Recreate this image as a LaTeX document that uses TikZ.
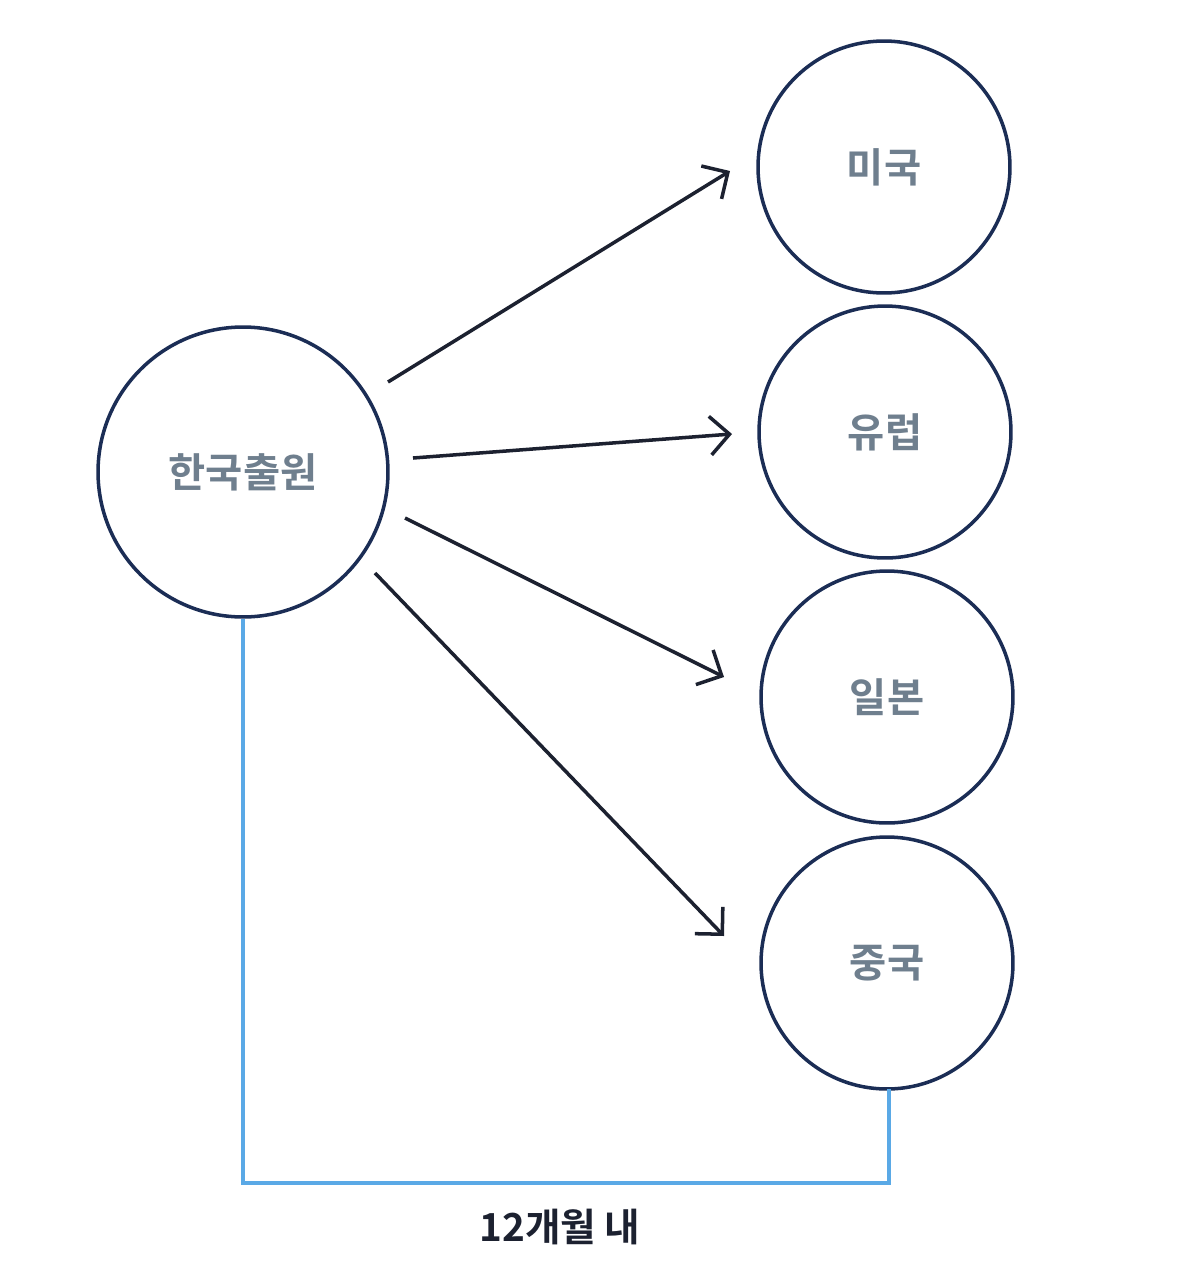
\documentclass[tikz,border=0pt]{standalone}
\usepackage{fontspec}
\newfontfamily\kr{Noto Sans CJK KR Bold}
\usetikzlibrary{arrows.meta}
\definecolor{navy}{HTML}{1B2D55}
\definecolor{txtg}{HTML}{6F7F8E}
\definecolor{arr}{HTML}{1C2130}
\definecolor{blu}{HTML}{5AA9E6}
\begin{document}
\begin{tikzpicture}[x=0.02cm,y=-0.02cm,
  cty/.style={circle,draw=navy,line width=2pt,inner sep=0pt,text=txtg,font=\kr\fontsize{23}{27}\selectfont},
  con/.style={draw=arr,line width=2pt,-{Straight Barb[length=11pt,width=22pt,line width=2pt]}}]
\useasboundingbox (0,0) rectangle (1200,1272);
\node[cty,minimum size=5.8cm] (kr) at (243,472) {한국출원};
\node[cty,minimum size=5.04cm] (us) at (884,167) {미국};
\node[cty,minimum size=5.04cm] (eu) at (885,432) {유럽};
\node[cty,minimum size=5.04cm] (jp) at (887,697) {일본};
\node[cty,minimum size=5.04cm] (cn) at (887,963) {중국};
\coordinate (s1) at (388,382); \coordinate (e1) at (730,171);
\coordinate (s2) at (413,458); \coordinate (e2) at (732,434);
\coordinate (s3) at (405,518); \coordinate (e3) at (724,677);
\coordinate (s4) at (375,573); \coordinate (e4) at (724,936);
\draw[con] (s1) -- (e1);
\draw[con] (s2) -- (e2);
\draw[con] (s3) -- (e3);
\draw[con] (s4) -- (e4);
\coordinate (bl) at (243,1183);
\coordinate (br) at (889,1183);
\coordinate (cb) at (889,1089);
\draw[blu,line width=2pt] (kr.south) -- (bl) -- (br) -- (cb);
\node[text=arr,font=\kr\fontsize{22}{26}\selectfont] (lbl) at (560,1227) {12개월 내};
\end{tikzpicture}
\end{document}
